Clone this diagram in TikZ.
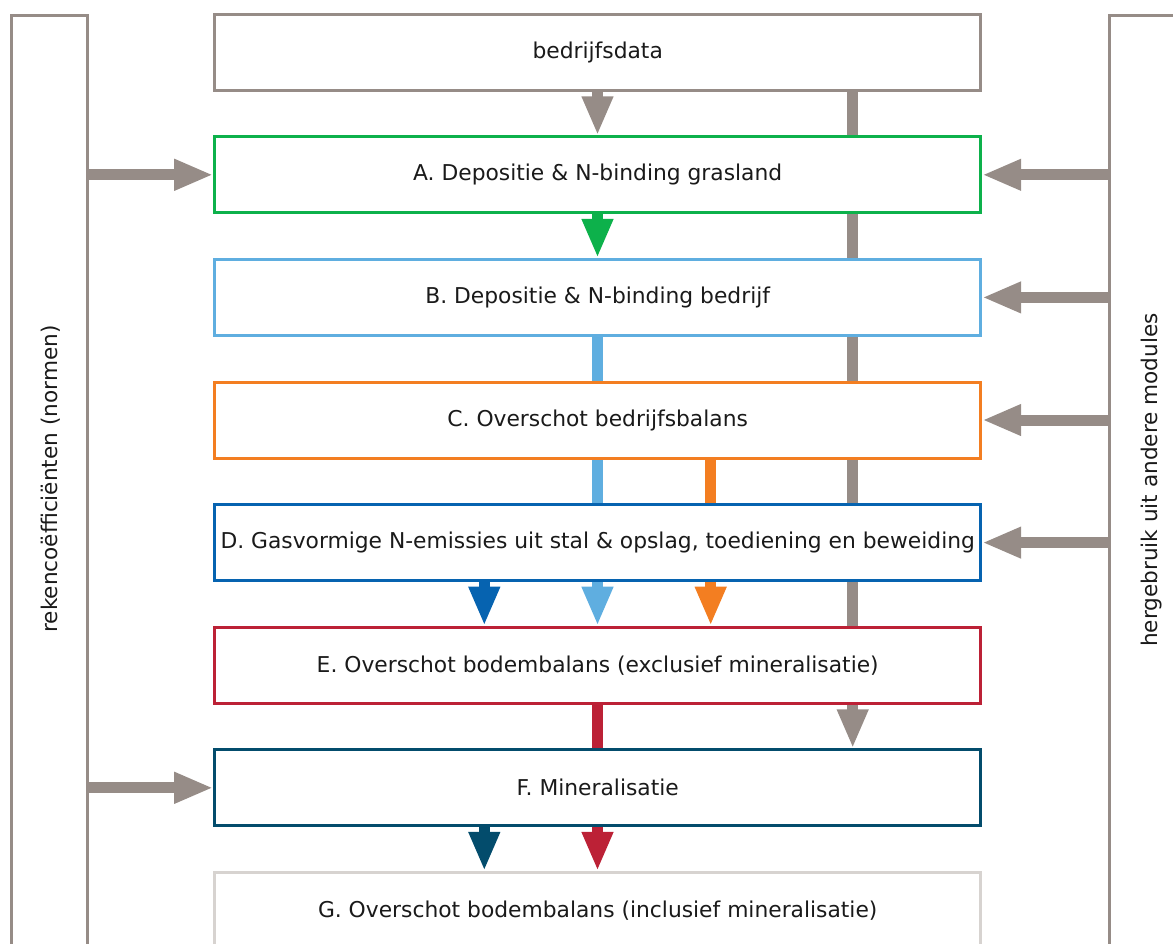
\documentclass[tikz,border=0pt]{standalone}
\usepackage{fontspec}
\setmainfont{DejaVu Sans}
\usetikzlibrary{arrows.meta}
\pgfdeclarelayer{bg}
\pgfsetlayers{bg,main}
\definecolor{warmgray}{RGB}{150,140,135}
\definecolor{lightgray}{RGB}{215,211,208}
\definecolor{grassgreen}{RGB}{13,177,75}
\definecolor{skyblue}{RGB}{95,174,224}
\definecolor{floworange}{RGB}{243,126,33}
\definecolor{deepblue}{RGB}{6,99,176}
\definecolor{crimson}{RGB}{188,33,54}
\definecolor{petrol}{RGB}{3,76,108}
\definecolor{ink}{RGB}{26,26,26}
\begin{document}
\begin{tikzpicture}[x=1pt,y=-1pt,
  box/.style={draw=#1, line width=3pt, fill=white, minimum width=766pt,
    minimum height=76pt, inner sep=0pt, font=\fontsize{21.8}{26}\selectfont, text=ink},
  panel/.style={draw=warmgray, line width=3pt, minimum width=76pt,
    minimum height=1000pt, inner sep=0pt, anchor=north west},
  sidetext/.style={rotate=90, font=\fontsize{21.6}{26}\selectfont, text=ink},
  flow/.style={draw=#1, line width=11pt, -{Triangle[width=29pt,length=39pt]}},
]
\useasboundingbox (0,0) rectangle (1173,943);

% side panels (open towards the page edges)
\node[panel] (L) at (10,14.3) {};
\node[panel] (R) at (1108.3,14.3) {};
\node[sidetext] (Lt) at (51,479) {rekencoëfficiënten (normen)};
\node[sidetext] (Rt) at (1152,480) {hergebruik uit andere modules};

% module boxes
\node[box=warmgray]   (bd) at (597.7,52.2)  {bedrijfsdata};
\node[box=grassgreen] (A)  at (597.7,174.8) {A. Depositie \& N-binding grasland};
\node[box=skyblue]    (B)  at (597.7,297.4) {B. Depositie \& N-binding bedrijf};
\node[box=floworange] (C)  at (597.7,420.0) {C. Overschot bedrijfsbalans};
\node[box=deepblue]   (D)  at (597.7,542.6) {D. Gasvormige N-emissies uit stal \& opslag, toediening en beweiding};
\node[box=crimson]    (E)  at (597.7,665.2) {E. Overschot bodembalans (exclusief mineralisatie)};
\node[box=petrol]     (F)  at (597.7,787.8) {F. Mineralisatie};
\node[box=lightgray]  (G)  at (597.7,910.4) {G. Overschot bodembalans (inclusief mineralisatie)};

% flow columns
\coordinate (k1) at (484.3,0);
\coordinate (k2) at (597.5,0);
\coordinate (k3) at (710.7,0);
\coordinate (k4) at (852.7,0);

\begin{pgfonlayer}{bg}
  \draw[flow=warmgray]   (bd.south -| k2) -- (A.north -| k2);
  \draw[flow=warmgray]   (bd.south -| k4) -- (F.north -| k4);
  \draw[flow=grassgreen] (A.south -| k2) -- (B.north -| k2);
  \draw[flow=skyblue]    (B.south -| k2) -- (E.north -| k2);
  \draw[flow=floworange] (C.south -| k3) -- (E.north -| k3);
  \draw[flow=deepblue]   (D.south -| k1) -- (E.north -| k1);
  \draw[flow=crimson]    (E.south -| k2) -- (G.north -| k2);
  \draw[flow=petrol]     (F.south -| k1) -- (G.north -| k1);
  % inputs from the side panels
  \draw[flow=warmgray] (A.west -| L.east) -- (A.west);
  \draw[flow=warmgray] (F.west -| L.east) -- (F.west);
  \draw[flow=warmgray] (A.east -| R.west) -- (A.east);
  \draw[flow=warmgray] (B.east -| R.west) -- (B.east);
  \draw[flow=warmgray] (C.east -| R.west) -- (C.east);
  \draw[flow=warmgray] (D.east -| R.west) -- (D.east);
\end{pgfonlayer}
\end{tikzpicture}
\end{document}
